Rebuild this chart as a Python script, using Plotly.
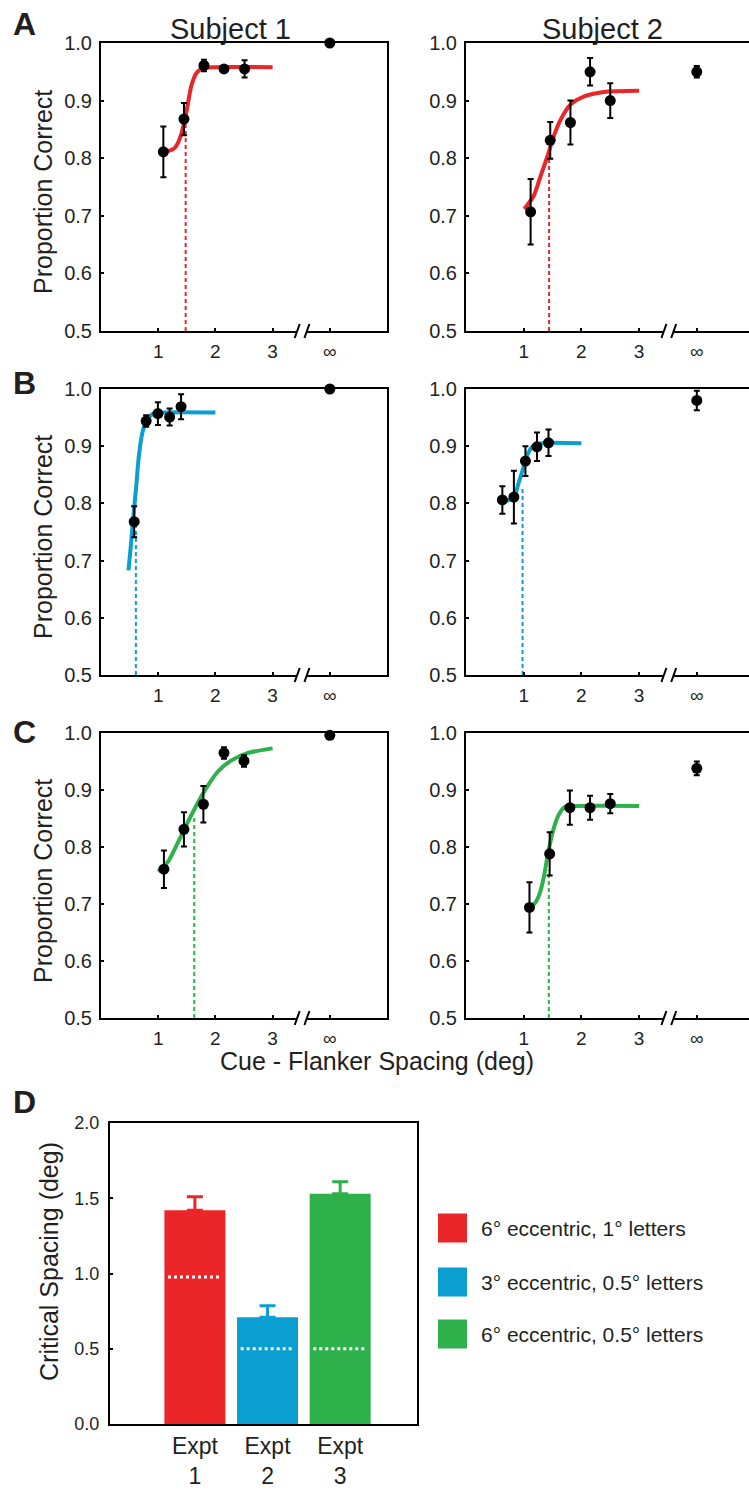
import plotly.graph_objects as go

W, H = 749, 1490
FONT = "Liberation Sans, Arial, Helvetica, sans-serif"
TXT = "#231F20"
RED, BLUE, GREEN = "#EA2629", "#0A9FD0", "#2EB04B"

# ---------------- data ----------------
x_tick_vals = [1, 2, 3, 4]
x_tick_text = ["1", "2", "3", "∞"]
y_tick_vals = [0.5, 0.6, 0.7, 0.8, 0.9, 1.0]
INF_X = 4  # position of the "∞" category on the spacing axis

# Panel A, Subject 1
a1_x = [1.09, 1.45, 1.80, 2.15, 2.51]
a1_y = [0.811, 0.868, 0.961, 0.955, 0.955]
a1_err = [0.044, 0.028, 0.010, 0.004, 0.015]
a1_inf, a1_inf_err = 1.000, 0.0
a1_fit_x = [1.0, 1.15, 1.25, 1.32, 1.41, 1.5, 1.58, 1.67, 1.78, 2.0, 3.0]
a1_fit_y = [0.811, 0.812, 0.815, 0.822, 0.844, 0.884, 0.926, 0.948, 0.956, 0.958, 0.958]
a1_thr, a1_thr_y = 1.48, 0.86

# Panel A, Subject 2
a2_x = [1.12, 1.46, 1.81, 2.15, 2.50]
a2_y = [0.707, 0.831, 0.862, 0.950, 0.900]
a2_err = [0.057, 0.032, 0.038, 0.024, 0.030]
a2_inf, a2_inf_err = 0.950, 0.010
a2_fit_x = [1.01, 1.17, 1.29, 1.41, 1.52, 1.64, 1.81, 2.04, 2.39, 3.0]
a2_fit_y = [0.712, 0.734, 0.768, 0.803, 0.838, 0.867, 0.893, 0.907, 0.915, 0.917]
a2_thr, a2_thr_y = 1.44, 0.80

# Panel B, Subject 1
b1_x = [0.58, 0.79, 0.995, 1.20, 1.40]
b1_y = [0.768, 0.944, 0.957, 0.951, 0.969]
b1_err = [0.027, 0.010, 0.020, 0.015, 0.022]
b1_inf, b1_inf_err = 1.000, 0.0
b1_fit_x = [0.48, 0.52, 0.56, 0.61, 0.66, 0.72, 0.79, 0.90, 1.14, 2.0]
b1_fit_y = [0.683, 0.724, 0.771, 0.823, 0.881, 0.922, 0.945, 0.956, 0.959, 0.959]
b1_thr, b1_thr_y = 0.61, 0.78

# Panel B, Subject 2
b2_x = [0.63, 0.83, 1.03, 1.23, 1.43]
b2_y = [0.806, 0.811, 0.874, 0.899, 0.906]
b2_err = [0.024, 0.046, 0.026, 0.025, 0.023]
b2_inf, b2_inf_err = 0.980, 0.017
b2_fit_x = [0.54, 0.71, 0.83, 0.91, 0.99, 1.06, 1.15, 1.29, 2.0]
b2_fit_y = [0.806, 0.805, 0.811, 0.835, 0.861, 0.884, 0.899, 0.905, 0.905]
b2_thr, b2_thr_y = 0.98, 0.83

# Panel C, Subject 1
c1_x = [1.10, 1.45, 1.79, 2.15, 2.50]
c1_y = [0.761, 0.831, 0.875, 0.965, 0.951]
c1_err = [0.033, 0.030, 0.032, 0.010, 0.010]
c1_inf, c1_inf_err = 0.996, 0.0
c1_fit_x = [1.0, 1.17, 1.35, 1.52, 1.70, 1.87, 2.04, 2.28, 2.57, 3.0]
c1_fit_y = [0.757, 0.774, 0.809, 0.844, 0.879, 0.908, 0.932, 0.952, 0.965, 0.973]
c1_thr, c1_thr_y = 1.63, 0.856

# Panel C, Subject 2
c2_x = [1.10, 1.45, 1.80, 2.15, 2.50]
c2_y = [0.694, 0.788, 0.869, 0.869, 0.876]
c2_err = [0.044, 0.038, 0.030, 0.021, 0.017]
c2_inf, c2_inf_err = 0.938, 0.012
c2_fit_x = [1.02, 1.19, 1.28, 1.35, 1.42, 1.51, 1.60, 1.71, 1.94, 3.0]
c2_fit_y = [0.695, 0.701, 0.719, 0.748, 0.788, 0.829, 0.855, 0.870, 0.872, 0.872]
c2_thr, c2_thr_y = 1.435, 0.76

# Panel D
d_categories = ["Expt<br>1", "Expt<br>2", "Expt<br>3"]
d_values = [1.42, 0.71, 1.53]
d_err = [0.09, 0.075, 0.08]
d_letter_size = [0.976, 0.5, 0.5]
d_legend = ["6° eccentric, 1° letters", "3° eccentric, 0.5° letters", "6° eccentric, 0.5° letters"]
d_colors = [RED, BLUE, GREEN]

# ---------------- layout helpers ----------------
def dx(p):
    return p / W


def dy(p):
    return 1 - p / H


rows = [(43, 331), (389, 675), (733, 1018)]
cols = [(101, 387, 5.0), (466, 749, 283 / 57.7)]

panels = [
    (a1_x, a1_y, a1_err, a1_inf, a1_inf_err, a1_fit_x, a1_fit_y, a1_thr, a1_thr_y, RED),
    (a2_x, a2_y, a2_err, a2_inf, a2_inf_err, a2_fit_x, a2_fit_y, a2_thr, a2_thr_y, RED),
    (b1_x, b1_y, b1_err, b1_inf, b1_inf_err, b1_fit_x, b1_fit_y, b1_thr, b1_thr_y, BLUE),
    (b2_x, b2_y, b2_err, b2_inf, b2_inf_err, b2_fit_x, b2_fit_y, b2_thr, b2_thr_y, BLUE),
    (c1_x, c1_y, c1_err, c1_inf, c1_inf_err, c1_fit_x, c1_fit_y, c1_thr, c1_thr_y, GREEN),
    (c2_x, c2_y, c2_err, c2_inf, c2_inf_err, c2_fit_x, c2_fit_y, c2_thr, c2_thr_y, GREEN),
]

fig = go.Figure()
layout = {}
shapes = []
annotations = []

for i, (px, py, pe, pinf, pinf_e, fx, fy, thr, thr_y, col) in enumerate(panels):
    n = i + 1
    r, c = divmod(i, 2)
    xa = "x" if n == 1 else f"x{n}"
    ya = "y" if n == 1 else f"y{n}"
    top, bot = rows[r]
    left, right, xmax = cols[c]

    layout["xaxis" if n == 1 else f"xaxis{n}"] = dict(
        domain=[dx(left), dx(right)], range=[0, xmax], anchor=ya, automargin=False,
        tickmode="array", tickvals=x_tick_vals, ticktext=x_tick_text,
        ticks="inside", ticklen=3, tickwidth=1.5, tickcolor="black",
        showline=True, linecolor="black", linewidth=2, mirror=True,
        showgrid=False, zeroline=False,
        tickfont=dict(size=19, color=TXT, family=FONT), ticklabelstandoff=2,
    )
    layout["yaxis" if n == 1 else f"yaxis{n}"] = dict(
        domain=[dy(bot), dy(top)], range=[0.5, 1.0], anchor=xa, automargin=False,
        tickmode="array", tickvals=y_tick_vals, tickformat=".1f",
        ticks="inside", ticklen=3, tickwidth=1.5, tickcolor="black",
        showline=True, linecolor="black", linewidth=2, mirror=(c == 0),
        showgrid=False, zeroline=False,
        tickfont=dict(size=20, color=TXT, family=FONT), ticklabelstandoff=3,
    )

    # fitted curve
    fig.add_trace(go.Scatter(x=fx, y=fy, mode="lines", xaxis=xa, yaxis=ya,
                             line=dict(color=col, width=4, shape="spline", smoothing=0.7),
                             cliponaxis=False, showlegend=False, hoverinfo="skip"))
    # threshold line
    fig.add_trace(go.Scatter(x=[thr, thr], y=[0.5, thr_y], mode="lines", xaxis=xa, yaxis=ya,
                             line=dict(color=col, width=2, dash="4px,3px"),
                             showlegend=False, hoverinfo="skip"))
    # data points incl. ∞
    fig.add_trace(go.Scatter(
        x=px + [INF_X], y=py + [pinf], mode="markers", xaxis=xa, yaxis=ya,
        marker=dict(color="black", size=11),
        error_y=dict(type="data", array=pe + [pinf_e], color="black", thickness=2, width=3),
        cliponaxis=False, showlegend=False))

    # axis break
    dref_x, dref_y = f"{xa} domain", f"{ya} domain"
    hpx = bot - top
    wpx = right - left
    b1 = 3.43 / xmax
    b2 = 3.60 / xmax
    shapes.append(dict(type="rect", xref=dref_x, yref=dref_y, x0=b1, x1=b2,
                       y0=-6 / hpx, y1=6 / hpx, fillcolor="white", line=dict(width=0),
                       layer="above"))
    for bc in (b1, b2):
        shapes.append(dict(type="line", xref=dref_x, yref=dref_y,
                           x0=bc - 2.5 / wpx, x1=bc + 2.5 / wpx, y0=-7 / hpx, y1=7 / hpx,
                           line=dict(color="black", width=2), layer="above"))

# ---------------- Panel D ----------------
d_pos = [1, 2, 3]
layout["xaxis7"] = dict(
    domain=[dx(110), dx(417)], range=[-0.169, 4.058], anchor="y7", automargin=False,
    tickmode="array", tickvals=d_pos, ticktext=d_categories, ticks="",
    showline=True, linecolor="black", linewidth=2, mirror=True,
    showgrid=False, zeroline=False,
    tickfont=dict(size=23, color=TXT, family=FONT), ticklabelstandoff=0,
)
layout["yaxis7"] = dict(
    domain=[dy(1424), dy(1123)], range=[0, 2.0], anchor="x7", automargin=False,
    tickmode="array", tickvals=[0, 0.5, 1.0, 1.5, 2.0], tickformat=".1f",
    ticks="inside", ticklen=3, tickwidth=1.5, tickcolor="black",
    showline=True, linecolor="black", linewidth=2, mirror=True,
    showgrid=False, zeroline=False,
    tickfont=dict(size=18, color=TXT, family=FONT), ticklabelstandoff=5,
)
for p, v, e, ls, colr in zip(d_pos, d_values, d_err, d_letter_size, d_colors):
    fig.add_trace(go.Bar(x=[p], y=[v], width=0.84, xaxis="x7", yaxis="y7",
                         marker=dict(color=colr, line=dict(width=0)),
                         error_y=dict(type="data", array=[e], arrayminus=[0], symmetric=False,
                                      color=colr, thickness=3, width=8),
                         showlegend=False))
    fig.add_trace(go.Scatter(x=[p - 0.37, p + 0.37], y=[ls, ls], mode="lines",
                             xaxis="x7", yaxis="y7",
                             line=dict(color="white", width=3, dash="3px,3px"),
                             showlegend=False, hoverinfo="skip"))

# legend for D
leg_y = [1228, 1282, 1334]
for yy, lab, colr in zip(leg_y, d_legend, d_colors):
    shapes.append(dict(type="rect", xref="paper", yref="paper",
                       x0=dx(438), x1=dx(467), y0=dy(yy + 14.5), y1=dy(yy - 14.5),
                       fillcolor=colr, line=dict(width=0)))
    annotations.append(dict(text=lab, xref="paper", yref="paper", x=dx(479), y=dy(yy),
                            xanchor="left", yanchor="middle", showarrow=False,
                            font=dict(size=21, color=TXT, family=FONT)))

# ---------------- text ----------------
def ann(text, x, y, size, bold=False, angle=0):
    annotations.append(dict(
        text=f"<b>{text}</b>" if bold else text, xref="paper", yref="paper",
        x=dx(x), y=dy(y), xanchor="center", yanchor="middle", showarrow=False,
        textangle=angle, font=dict(size=size, color=TXT, family=FONT)))


ann("A", 24, 24, 32, bold=True)
ann("B", 24, 383, 32, bold=True)
ann("C", 24, 732, 32, bold=True)
ann("D", 24, 1102, 32, bold=True)
ann("Subject 1", 230, 29, 29)
ann("Subject 2", 602, 29, 29)
ann("Proportion Correct", 43, 192, 25, angle=-90)
ann("Proportion Correct", 43, 537, 25, angle=-90)
ann("Proportion Correct", 43, 881, 25, angle=-90)
ann("Cue - Flanker Spacing (deg)", 377, 1061, 25)
ann("Critical Spacing (deg)", 49, 1262, 25, angle=-90)

fig.update_layout(
    template="none",
    width=W, height=H, margin=dict(l=0, r=0, t=0, b=0, autoexpand=False),
    paper_bgcolor="white", plot_bgcolor="white",
    font=dict(family=FONT, color=TXT),
    showlegend=False, shapes=shapes, annotations=annotations,
    **layout,
)

fig.write_html("out.html", config={"displayModeBar": False},
               post_script="document.body.style.margin='0px';document.body.style.overflow='hidden';")
